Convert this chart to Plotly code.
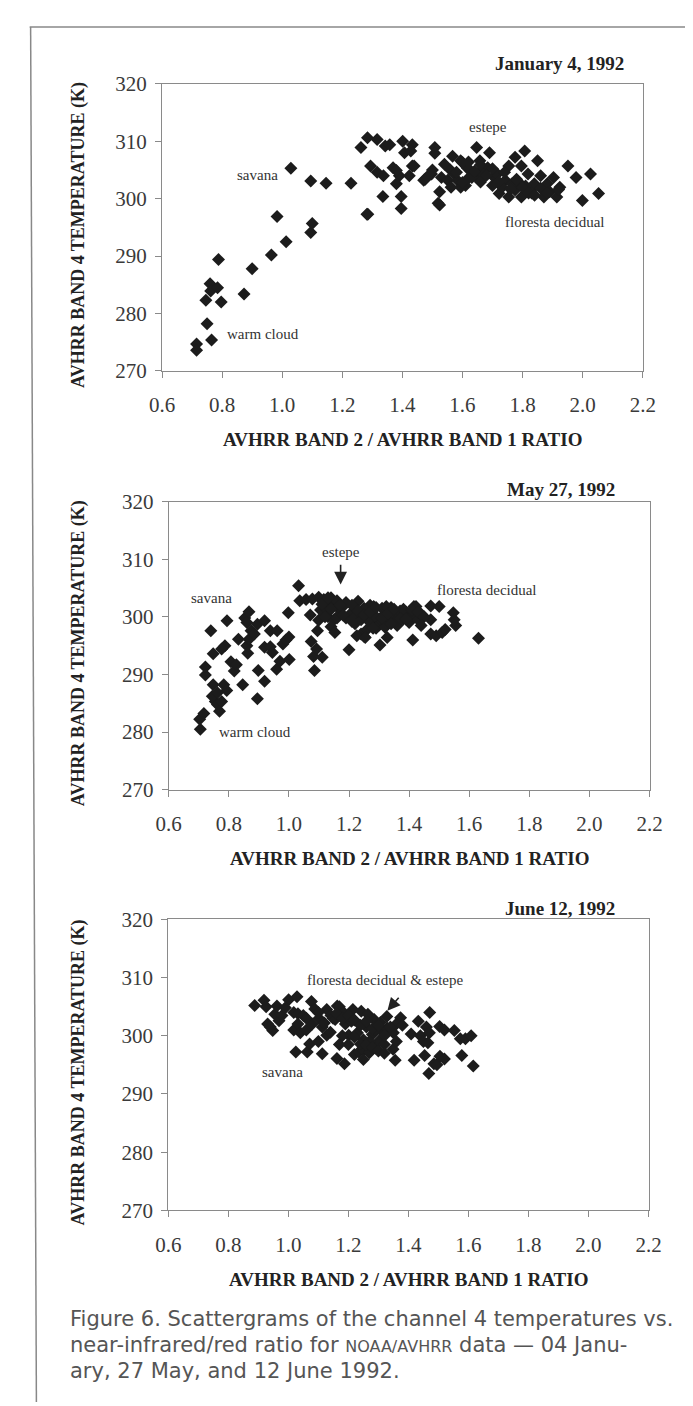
import plotly.graph_objects as go

# ---------------- data ----------------
jan_x = [0.715, 0.715, 0.750, 0.765, 0.746, 0.760, 0.762, 0.785, 0.797, 0.788,
         0.873, 0.900, 0.964, 0.983, 1.013, 1.029, 1.095, 1.100, 1.095, 1.146,
         1.229, 1.285,
         1.262, 1.284, 1.316, 1.343, 1.358, 1.401, 1.433, 1.407, 1.428, 1.508, 1.508,
         1.294, 1.316, 1.337, 1.369, 1.390, 1.433, 1.423, 1.471, 1.492, 1.380,
         1.335, 1.396, 1.396, 1.282, 1.524, 1.524, 1.530, 1.439, 1.380,
         1.519, 1.476, 1.497, 1.540, 1.567, 1.594, 1.572, 1.610, 1.583, 1.626,
         1.647, 1.658, 1.668, 1.690, 1.684, 1.706, 1.722, 1.716, 1.743, 1.754,
         1.775, 1.807, 1.796, 1.818, 1.775, 1.796, 1.828, 1.850, 1.839, 1.871,
         1.882, 1.903, 1.924, 1.914, 1.951, 1.978, 1.999, 2.026, 2.053,
         1.732, 1.754, 1.647, 1.615, 1.551, 1.562, 1.594, 1.631, 1.600, 1.660,
         1.700, 1.765, 1.785, 1.810, 1.830, 1.860, 1.890, 1.920,
         1.560, 1.580, 1.600, 1.620, 1.640, 1.660, 1.680, 1.700, 1.720, 1.740,
         1.760, 1.780, 1.800, 1.820, 1.840, 1.860, 1.880, 1.660, 1.620, 1.500]
jan_y = [274.7, 273.6, 278.2, 275.4, 282.3, 285.2, 283.9, 284.5, 282.0, 289.4,
         283.4, 287.8, 290.2, 296.9, 292.5, 305.3, 294.1, 295.7, 303.1, 302.7,
         302.7, 297.3,
         308.9, 310.6, 310.3, 309.2, 309.4, 310.0, 309.4, 308.0, 308.3, 308.9, 307.9,
         305.7, 304.6, 304.0, 305.4, 304.0, 305.7, 304.0, 303.2, 304.3, 302.6,
         300.4, 300.4, 298.3, 297.3, 301.2, 298.9, 303.7, 305.7, 304.9,
         299.2, 303.4, 304.3, 306.0, 307.4, 306.6, 304.3, 302.3, 303.2, 304.9,
         308.9, 306.6, 303.7, 308.0, 305.4, 303.7, 300.9, 304.3, 303.2, 305.7,
         307.2, 308.3, 305.7, 304.3, 301.5, 300.3, 301.5, 306.6, 302.6, 300.3,
         302.6, 303.7, 302.0, 300.3, 305.7, 303.7, 299.7, 304.3, 300.9,
         302.0, 300.3, 303.7, 305.4, 303.2, 302.0, 302.0, 303.7, 306.3, 304.8,
         305.2, 302.6, 303.0, 302.2, 301.0, 304.0, 301.2, 301.6,
         305.0, 304.6, 302.8, 303.6, 304.8, 302.9, 304.1, 302.3, 302.9, 304.6,
         301.7, 303.4, 302.0, 301.0, 300.6, 301.8, 301.0, 305.9, 306.4, 305.0]

may_x = [0.705, 0.703, 0.717, 0.722, 0.722, 0.740, 0.748, 0.748, 0.755, 0.745,
         0.762, 0.769, 0.776, 0.783, 0.793, 0.762, 0.787, 0.776, 0.794, 0.807,
         0.818, 0.825, 0.832, 0.846, 0.860, 0.863, 0.853, 0.867, 0.860, 0.874,
         0.867, 0.885, 0.895, 0.898, 0.895, 0.919, 0.919, 0.919, 0.938, 0.938,
         0.945, 0.961, 0.959, 0.970, 0.980, 0.990, 0.998, 1.001, 1.000, 1.032,
         1.036, 1.057, 1.078, 1.099, 1.116, 1.071, 1.074, 1.082, 1.085, 1.092,
         1.111, 1.095, 1.099, 1.105, 1.120, 1.130, 1.140, 1.150, 1.160, 1.170,
         1.160, 1.180, 1.130, 1.150, 1.140, 1.153, 1.200, 1.190, 1.210, 1.220,
         1.230, 1.220, 1.240, 1.250, 1.260, 1.240, 1.260, 1.270, 1.280, 1.290,
         1.300, 1.310, 1.320, 1.330, 1.303, 1.327, 1.340, 1.350, 1.360, 1.370,
         1.380, 1.390, 1.400, 1.410, 1.412, 1.416, 1.430, 1.440, 1.270, 1.250,
         1.210, 1.290, 1.320, 1.226, 1.254, 1.282, 1.324, 1.352, 1.381, 1.423,
         1.472, 1.500, 1.472, 1.472, 1.490, 1.510, 1.520, 1.547, 1.555, 1.550,
         1.631,
         1.110, 1.120, 1.140, 1.160, 1.180, 1.190, 1.170, 1.130, 1.210, 1.230,
         1.250, 1.270, 1.290, 1.310, 1.330, 1.350, 1.370, 1.390, 1.410, 1.430,
         1.450, 1.280, 1.340, 1.440]
may_y = [280.5, 282.2, 283.2, 289.9, 291.3, 297.6, 293.6, 288.2, 285.3, 286.2,
         284.8, 283.6, 285.3, 288.2, 287.2, 286.8, 295.0, 294.4, 299.3, 292.2,
         290.6, 291.7, 296.1, 288.2, 295.0, 293.7, 299.8, 300.9, 299.0, 297.6,
         296.1, 297.0, 298.7, 290.7, 285.8, 288.8, 299.3, 294.7, 294.8, 297.6,
         293.8, 297.6, 290.9, 292.3, 295.3, 296.0, 300.7, 292.6, 296.5, 305.4,
         302.8, 303.0, 303.1, 303.4, 303.0, 300.3, 295.7, 293.1, 290.7, 294.4,
         293.0, 297.6, 299.4, 301.2, 301.5, 302.6, 303.3, 302.6, 301.7, 300.5,
         302.8, 301.8, 300.0, 299.5, 298.3, 297.3, 294.3, 299.8, 300.8, 298.8,
         302.7, 300.0, 297.0, 296.6, 297.8, 299.5, 300.2, 299.0, 301.3, 300.0,
         298.6, 301.5, 300.6, 299.2, 295.1, 296.4, 301.6, 300.0, 298.5, 301.0,
         299.6, 300.8, 299.0, 300.2, 296.0, 301.8, 299.5, 300.5, 302.0, 301.5,
         302.0, 298.0, 298.2, 296.7, 296.4, 301.8, 301.8, 299.0, 301.3, 301.8,
         301.9, 301.8, 299.5, 297.0, 296.7, 297.3, 297.8, 300.7, 298.5, 299.5,
         296.3,
         302.2, 300.0, 301.3, 299.8, 300.3, 302.5, 302.0, 303.3, 299.2, 301.0,
         300.3, 300.8, 301.6, 299.8, 300.6, 301.3, 299.7, 299.6, 301.2, 300.8,
         300.0, 298.0, 298.8, 298.5]

jun_x = [0.888, 0.919, 0.926, 0.931, 0.948, 0.955, 0.962, 0.969, 0.979, 0.940,
         1.001, 1.029, 1.018, 1.032, 1.018, 1.032, 1.040, 1.025, 1.063, 1.071,
         1.077, 1.088, 1.102, 1.113, 1.128, 1.113, 1.128, 1.142, 1.149, 1.156,
         1.163, 1.170, 1.184, 1.162, 1.187, 1.201, 1.190, 1.210, 1.215, 1.243,
         1.265, 1.286, 1.307, 1.328, 1.220, 1.235, 1.250, 1.270, 1.290, 1.230,
         1.250, 1.260, 1.280, 1.300, 1.310, 1.320, 1.330, 1.240, 1.270, 1.290,
         1.200, 1.349, 1.356, 1.374, 1.350, 1.360, 1.409, 1.419, 1.433, 1.471,
         1.440, 1.450, 1.460, 1.470, 1.465, 1.454, 1.468, 1.485, 1.495, 1.505,
         1.520, 1.504, 1.520, 1.553, 1.573, 1.590, 1.578, 1.609, 1.616, 1.140,
         1.060, 1.080, 1.100, 1.050, 1.170, 1.180,
         1.160, 1.180, 1.200, 1.220, 1.240, 1.260, 1.280, 1.300, 1.320, 1.340,
         1.220, 1.260, 1.280, 1.300, 1.320, 1.250, 1.120, 1.100, 1.060, 0.990,
         1.360, 1.380]
jun_y = [305.2, 306.1, 305.0, 302.0, 300.9, 303.7, 305.1, 302.6, 303.5, 301.5,
         306.2, 306.7, 304.0, 303.8, 301.0, 302.0, 300.5, 297.2, 297.2, 298.6,
         305.9, 304.6, 303.0, 301.5, 300.1, 296.9, 304.5, 303.5, 303.0, 302.8,
         305.1, 305.0, 304.0, 296.1, 295.2, 300.1, 302.0, 302.5, 304.5, 304.2,
         303.7, 302.8, 302.3, 303.3, 296.8, 297.2, 297.5, 297.1, 297.9, 300.5,
         299.3, 301.5, 300.2, 299.0, 300.8, 298.5, 301.3, 298.6, 299.0, 301.0,
         298.5, 297.7, 295.8, 303.1, 300.5, 302.0, 300.3, 295.8, 302.5, 304.0,
         300.0, 299.0, 301.5, 300.5, 298.8, 296.6, 293.5, 295.2, 295.0, 296.5,
         296.0, 301.6, 301.0, 300.9, 299.5, 299.5, 296.6, 300.0, 294.8, 300.6,
         301.0, 302.0, 299.0, 303.5, 298.5, 300.0,
         303.8, 303.0, 303.5, 302.7, 301.8, 302.5, 301.2, 301.8, 300.0, 301.5,
         299.8, 298.4, 298.0, 297.4, 297.0, 295.9, 302.2, 304.0, 303.0, 304.8,
         299.0, 301.8]

panel_dates = ["January 4, 1992", "May 27, 1992", "June 12, 1992"]
x_ticks = [0.6, 0.8, 1.0, 1.2, 1.4, 1.6, 1.8, 2.0, 2.2]
x_tick_text = ["0.6", "0.8", "1.0", "1.2", "1.4", "1.6", "1.8", "2.0", "2.2"]
y_ticks = [270, 280, 290, 300, 310, 320]
y_title = "AVHRR BAND 4 TEMPERATURE (K)"
x_title = "AVHRR BAND 2 / AVHRR BAND 1 RATIO"
caption_lines = ["Figure 6. Scattergrams of the channel 4 temperatures vs.",
                 "near-infrared/red ratio for <span style=\"font-size:16px\">NOAA/AVHRR</span> data \u2014 04 Janu-",
                 "ary, 27 May, and 12 June 1992."]

# ---------------- layout helpers ----------------
W, H = 693, 1406
def px(v):
    return v / W
def py(v):
    return 1 - v / H

SERIF = "Liberation Serif, Times New Roman, serif"
MARK = "#1c1c1c"
AX = "#8a8a8a"

# plot areas in pixels: (left, right, top, bottom)
boxes = [(146.5, 646, 65, 357), (153.5, 653, 490, 783), (153, 652, 915, 1211)]
date_pos = [(629, 44), (619, 478), (619, 904)]
caption_y = [1322, 1348, 1374]

fig = go.Figure()
series = [(jan_x, jan_y), (may_x, may_y), (jun_x, jun_y)]
for i, (xs, ys) in enumerate(series):
    sfx = "" if i == 0 else str(i + 1)
    fig.add_trace(go.Scatter(x=xs, y=ys, mode="markers", xaxis="x" + sfx, yaxis="y" + sfx,
                             marker=dict(symbol="diamond", size=10, color=MARK, line=dict(width=0)),
                             showlegend=False, hoverinfo="skip"))

annotations = []
for i, (l, r, t, b) in enumerate(boxes):
    sfx = "" if i == 0 else str(i + 1)
    fig.update_layout(**{
        "xaxis" + sfx: dict(domain=[px(l), px(r)], anchor="y" + sfx, range=[0.6, 2.2],
                            tickvals=x_ticks, ticktext=x_tick_text, ticks="outside", ticklen=6,
                            tickcolor=AX, showline=True, linecolor=AX, linewidth=1.2, mirror=True,
                            showgrid=False, zeroline=False, ticklabelstandoff=9,
                            tickfont=dict(family=SERIF, size=21, color="#3a3a3a")),
        "yaxis" + sfx: dict(domain=[py(b), py(t)], anchor="x" + sfx, range=[270, 320],
                            tickvals=y_ticks, ticks="outside", ticklen=6, tickcolor=AX,
                            showline=True, linecolor=AX, linewidth=1.2, mirror=True,
                            showgrid=False, zeroline=False, ticklabelstandoff=4,
                            tickfont=dict(family=SERIF, size=21, color="#3a3a3a")),
    })
    dx, dy = date_pos[i]
    annotations.append(dict(text="<b>%s</b>" % panel_dates[i], xref="paper", yref="paper",
                            x=px(dx), y=py(dy), xanchor="right", yanchor="middle", showarrow=False,
                            font=dict(family=SERIF, size=19, color="#222")))
    annotations.append(dict(text="<b>%s</b>" % y_title, xref="paper", yref="paper", textangle=-90,
                            x=px(60), y=py((t + b) / 2 + 8), xanchor="center", yanchor="middle",
                            showarrow=False, font=dict(family=SERIF, size=18, color="#222")))
    annotations.append(dict(text="<b>%s</b>" % x_title, xref="paper", yref="paper",
                            x=px((l + r) / 2), y=py(b + 70), xanchor="center", yanchor="middle",
                            showarrow=False, font=dict(family=SERIF, size=19, color="#222")))

lab = dict(family=SERIF, size=15, color="#333")
def note(text, x, y, k):
    sfx = "" if k == 0 else str(k + 1)
    annotations.append(dict(text=text, x=x, y=y, xref="x" + sfx, yref="y" + sfx,
                            showarrow=False, font=lab, xanchor="center", yanchor="middle"))

note("savana", 0.919, 304.1, 0)
note("warm cloud", 0.936, 276.4, 0)
note("estepe", 1.686, 312.5, 0)
note("floresta decidual", 1.907, 296.0, 0)

note("savana", 0.741, 303.2, 1)
note("warm cloud", 0.886, 280.0, 1)
note("estepe", 1.172, 311.2, 1)
note("floresta decidual", 1.659, 304.7, 1)
annotations.append(dict(text="", x=1.172, y=305.6, xref="x2", yref="y2", ax=1.172, ay=309.3,
                        axref="x2", ayref="y2", showarrow=True, arrowhead=2, arrowsize=1.6,
                        arrowwidth=1.6, arrowcolor="#222"))

note("floresta decidual &amp; estepe", 1.325, 309.5, 2)
note("savana", 0.979, 293.8, 2)
annotations.append(dict(text="", x=1.33, y=304.3, xref="x3", yref="y3", ax=1.372, ay=306.8,
                        axref="x3", ayref="y3", showarrow=True, arrowhead=2, arrowsize=1.6,
                        arrowwidth=1.6, arrowcolor="#222"))

for line, ly in zip(caption_lines, caption_y):
    annotations.append(dict(text=line, xref="paper", yref="paper", x=px(49), y=py(ly),
                            xanchor="left", yanchor="middle", align="left", showarrow=False,
                            font=dict(family="DejaVu Sans", size=21, color="#555")))

shapes = [
    dict(type="line", xref="paper", yref="paper", x0=px(9), y0=py(7), x1=1, y1=py(7),
         line=dict(color="#888", width=1.5)),
    dict(type="line", xref="paper", yref="paper", x0=px(10), y0=py(7), x1=px(16), y1=0,
         line=dict(color="#888", width=1.5)),
]

fig.update_layout(width=W, height=H, margin=dict(l=0, r=0, t=0, b=0),
                  paper_bgcolor="white", plot_bgcolor="white",
                  annotations=annotations, shapes=shapes)

fig.write_html("out.html")
